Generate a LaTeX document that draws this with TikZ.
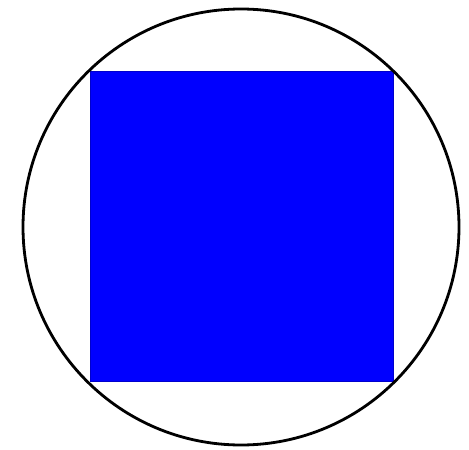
\documentclass[tikz,border=0pt]{standalone}
\usepackage{tikz}
\definecolor{pureblue}{RGB}{0,0,255}
\tikzset{
  rim/.style={draw=black,line width=1.6pt},
  plate/.style={fill=pureblue,draw=pureblue!80!black,line width=0.4pt},
}
\begin{document}
\begin{tikzpicture}[x=0.02cm,y=-0.02cm]
  \useasboundingbox (0,0) rectangle (469,449);
  % square inside the circle
  \fill[plate] (90,71) rectangle (393,381);
  \draw[rim] (241,227) circle (218*0.02cm);
\end{tikzpicture}
\end{document}
